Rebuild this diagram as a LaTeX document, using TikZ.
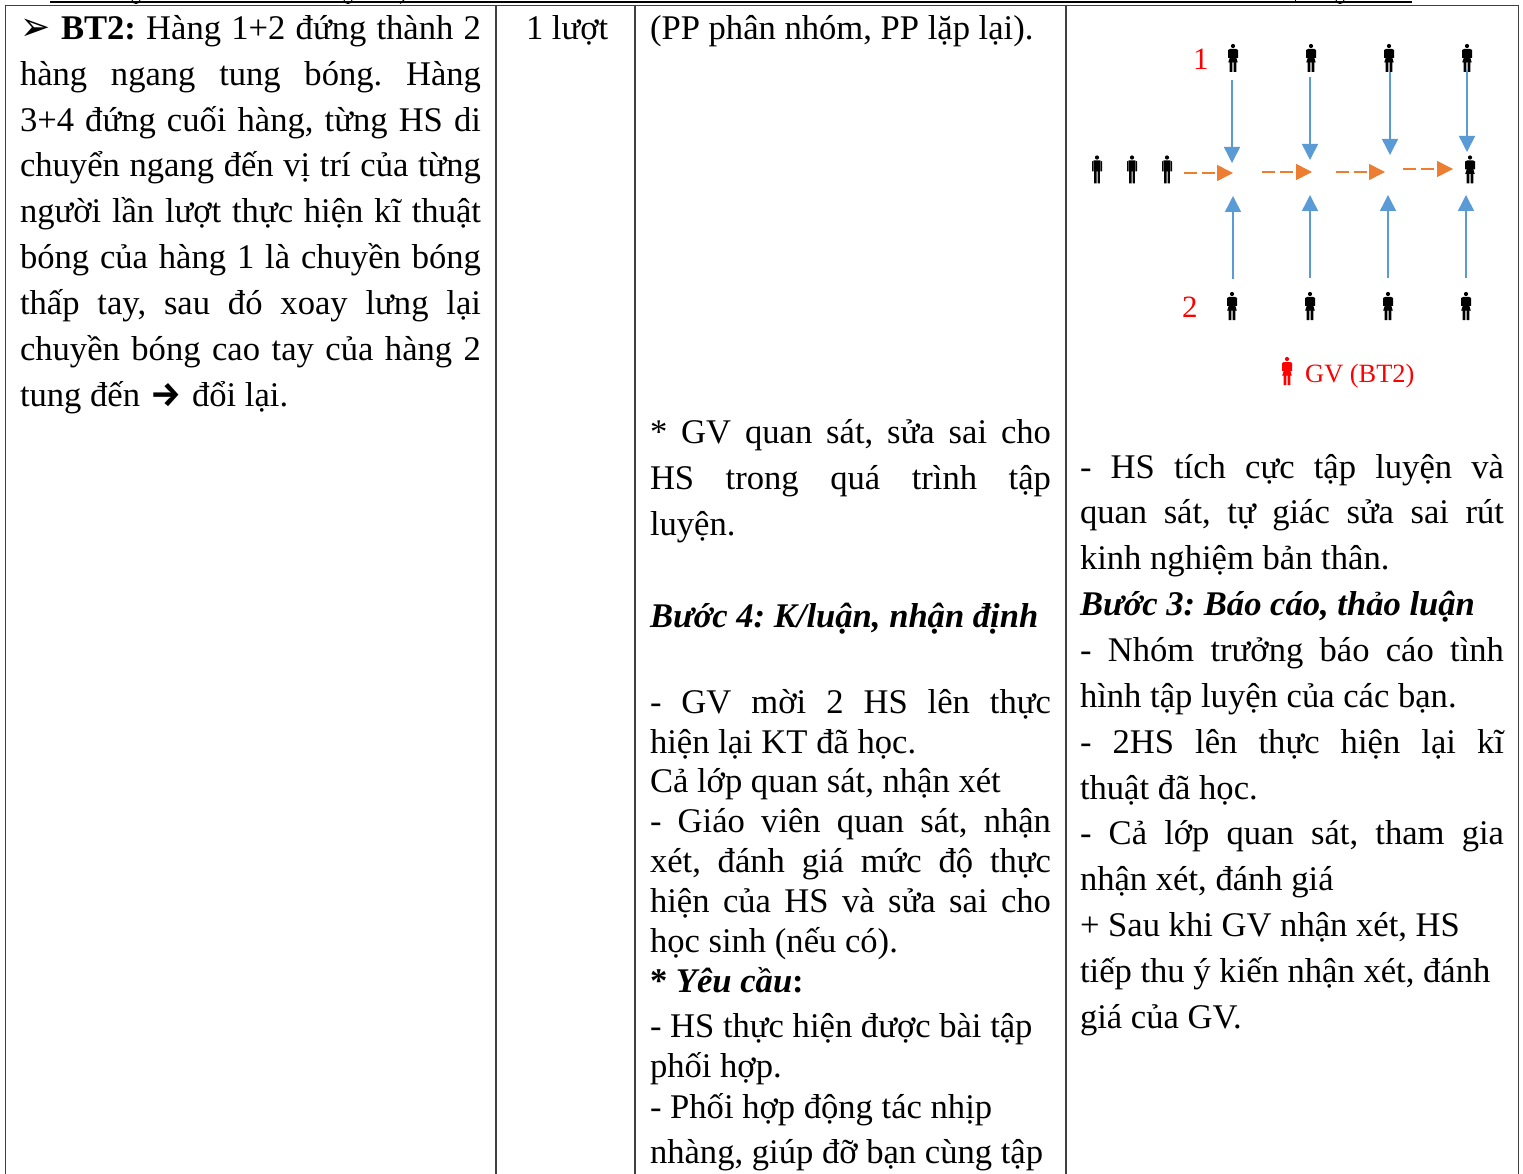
\documentclass[tikz,border=0pt]{standalone}
\usepackage{fontspec}
\setmainfont{Liberation Serif}
\newfontfamily\symfont{DejaVu Sans}
\newfontfamily\arrfont{Fira Sans}
\usetikzlibrary{arrows.meta}
\definecolor{barblue}{RGB}{91,155,213}
\definecolor{barorange}{RGB}{237,125,49}
\tikzset{
  x=1pt,y=-1pt,
  tline/.style={anchor=base west,inner sep=0pt,outer sep=0pt,yshift=-1.3pt,font=\fontsize{34.6}{40}\selectfont},
  rule/.style={draw=black!75!white,line width=1.3pt},
  blueline/.style={draw=barblue,line width=1.5pt,-{Triangle[length=16pt,width=16pt]}},
  orangeline/.style={draw=barorange,line width=1.5pt,dash pattern=on 13pt off 5pt,-{Triangle[length=16pt,width=16pt]}},
  redlabel/.style={anchor=base west,inner sep=0pt,text=red,font=\fontsize{31}{34}\selectfont},
  pics/woman/.style={code={
    \fill[#1] (0,-12) circle (2.1);
    \fill[#1] (-3,-9) -- (3,-9) -- (3,-1) -- (4.8,4.5) -- (3.4,4.5) -- (3.4,14) -- (.6,14) -- (.6,4.5) -- (-.6,4.5) -- (-.6,14) -- (-3.4,14) -- (-3.4,4.5) -- (-4.8,4.5) -- (-3,-1) -- cycle;
    \fill[#1] (-5,-8) -- (-3,-9) -- (-3,0) -- (-5,0) -- cycle;
    \fill[#1] (5,-8) -- (3,-9) -- (3,0) -- (5,0) -- cycle;
  }},
  pics/man/.style={code={
    \fill[#1] (0,-12) circle (2.1);
    \fill[#1] (-2.9,-9) -- (2.9,-9) -- (2.9,14) -- (.5,14) -- (.5,2) -- (-.5,2) -- (-.5,14) -- (-2.9,14) -- cycle;
    \fill[#1] (-5,-8) -- (-3.4,-9) -- (-3.4,2) -- (-5,2) -- cycle;
    \fill[#1] (5,-8) -- (3.4,-9) -- (3.4,2) -- (5,2) -- cycle;
  }},
}
\newcommand{\jl}[5]{\node[tline] (#1) at (#2,#3) {\frenchspacing\makebox[#4][s]{#5}};}
\newcommand{\nl}[4]{\node[tline] (#1) at (#2,#3) {\frenchspacing #4};}
\begin{document}
\begin{tikzpicture}
\useasboundingbox (0,0) rectangle (1523,1174);
\fill[white] (0,0) rectangle (1523,1174);
% top cut-off underline and descenders of the line above
\draw[black,line width=1.2pt] (50,2) -- (1412,2);
\foreach \gx in {136,348,1340} {\draw[black,line width=1pt] (\gx-4,0) arc[start angle=180,end angle=360,x radius=4,y radius=-3.5];}
\draw[black,line width=1pt] (404,0) -- (400,3.5);
\draw[black,line width=1pt] (1295,0) -- (1295,2);
% table
\draw[rule] (5.5,1174) -- (5.5,5.5) -- (1518.5,5.5) -- (1518.5,1174);
\draw[rule] (496,5.5) -- (496,1174);
\draw[rule] (635,5.5) -- (635,1174);
\draw[rule] (1066,5.5) -- (1066,1174);
% column 1
\jl{a1}{20}{38}{461pt}{\makebox[41pt][l]{\raisebox{-1pt}{\scalebox{1.2}[1.35]{\fontsize{30}{30}\symfont ➢}}}\textbf{BT2:} Hàng 1+2 đứng thành 2}
\jl{a2}{20}{84}{461pt}{hàng ngang tung bóng. Hàng}
\jl{a3}{20}{130}{461pt}{3+4 đứng cuối hàng, từng HS di}
\jl{a4}{20}{175}{461pt}{chuyển ngang đến vị trí của từng}
\jl{a5}{20}{221}{461pt}{người lần lượt thực hiện kĩ thuật}
\jl{a6}{20}{267}{461pt}{bóng của hàng 1 là chuyền bóng}
\jl{a7}{20}{313}{461pt}{thấp tay, sau đó xoay lưng lại}
\jl{a8}{20}{359}{461pt}{chuyền bóng cao tay của hàng 2}
\nl{a9}{20}{405}{tung đến\kern10pt\makebox[32pt][c]{\arrfont\bfseries →}\kern10pt đổi lại.}
% column 2
\nl{b1}{526}{38}{1 lượt}
% column 3
\nl{c1}{650}{38}{(PP phân nhóm, PP lặp lại).}
\jl{c2}{650}{442}{401pt}{* GV quan sát, sửa sai cho}
\jl{c3}{650}{488}{401pt}{HS trong quá trình tập}
\nl{c4}{650}{534}{luyện.}
\nl{c5}{650}{626}{\textbf{\textit{Bước 4: K/luận, nhận định}}}
\jl{c6}{650}{712}{401pt}{- GV mời 2 HS lên thực}
\nl{c7}{650}{752}{hiện lại KT đã học.}
\nl{c8}{650}{791}{Cả lớp quan sát, nhận xét}
\jl{c9}{650}{831}{401pt}{- Giáo viên quan sát, nhận}
\jl{c10}{650}{871}{401pt}{xét, đánh giá mức độ thực}
\jl{c11}{650}{911}{401pt}{hiện của HS và sửa sai cho}
\nl{c12}{650}{951}{học sinh (nếu có).}
\nl{c13}{650}{991}{\textbf{* \textit{Yêu cầu}:}}
\nl{c14}{650}{1036}{- HS thực hiện được bài tập}
\nl{c15}{650}{1076}{phối hợp.}
\nl{c16}{650}{1117}{- Phối hợp động tác nhịp}
\nl{c17}{650}{1162}{nhàng, giúp đỡ bạn cùng tập}
% column 4
\jl{d1}{1080}{477}{424pt}{- HS tích cực tập luyện và}
\jl{d2}{1080}{522}{424pt}{quan sát, tự giác sửa sai rút}
\nl{d3}{1080}{568}{kinh nghiệm bản thân.}
\nl{d4}{1080}{614}{\textbf{\textit{Bước 3: Báo cáo, thảo luận}}}
\jl{d5}{1080}{660}{424pt}{- Nhóm trưởng báo cáo tình}
\nl{d6}{1080}{706}{hình tập luyện của các bạn.}
\jl{d7}{1080}{752}{424pt}{- 2HS lên thực hiện lại kĩ}
\nl{d8}{1080}{798}{thuật đã học.}
\jl{d9}{1080}{843}{424pt}{- Cả lớp quan sát, tham gia}
\nl{d10}{1080}{889}{nhận xét, đánh giá}
\nl{d11}{1080}{935}{+ Sau khi GV nhận xét, HS}
\nl{d12}{1080}{981}{tiếp thu ý kiến nhận xét, đánh}
\nl{d13}{1080}{1027}{giá của GV.}
% formation
\node[redlabel] (n1) at (1193,70) {1};
\node[redlabel] (n2) at (1182,317) {2};
\pic at (1233,58) {woman=black};
\pic at (1311,58) {woman=black};
\pic at (1389,58) {woman=black};
\pic at (1467,58) {woman=black};
\pic at (1097,169.5) {man=black};
\pic at (1132,169.5) {man=black};
\pic at (1167,169.5) {man=black};
\pic at (1470,169.5) {woman=black};
\pic at (1232,306) {woman=black};
\pic at (1310,306) {woman=black};
\pic at (1388,306) {woman=black};
\pic at (1466,306) {woman=black};
\pic at (1287,371) {woman=red};
\node[anchor=base west,inner sep=0pt,text=red,font=\fontsize{26.4}{30}\selectfont] (gv) at (1305,382) {GV (BT2)};
% named ends
\coordinate (t1) at (1232,80); \coordinate (t1e) at (1232,163);
\coordinate (t2) at (1310,77); \coordinate (t2e) at (1310,160);
\coordinate (t3) at (1390,72); \coordinate (t3e) at (1390,155);
\coordinate (t4) at (1467,70); \coordinate (t4e) at (1467,152);
\coordinate (u1) at (1233,279); \coordinate (u1e) at (1233,196);
\coordinate (u2) at (1310,278); \coordinate (u2e) at (1310,195);
\coordinate (u3) at (1388,278); \coordinate (u3e) at (1388,195);
\coordinate (u4) at (1466,278); \coordinate (u4e) at (1466,195);
\coordinate (o1) at (1184,173); \coordinate (o1e) at (1233,173);
\coordinate (o2) at (1262,172); \coordinate (o2e) at (1312,172);
\coordinate (o3) at (1336,172); \coordinate (o3e) at (1385,172);
\coordinate (o4) at (1403,169); \coordinate (o4e) at (1453,169);
\foreach \k in {1,2,3,4} {
  \draw[blueline] (t\k) -- (t\k e);
  \draw[blueline] (u\k) -- (u\k e);
  \draw[orangeline] (o\k) -- (o\k e);
}
\end{tikzpicture}
\end{document}
